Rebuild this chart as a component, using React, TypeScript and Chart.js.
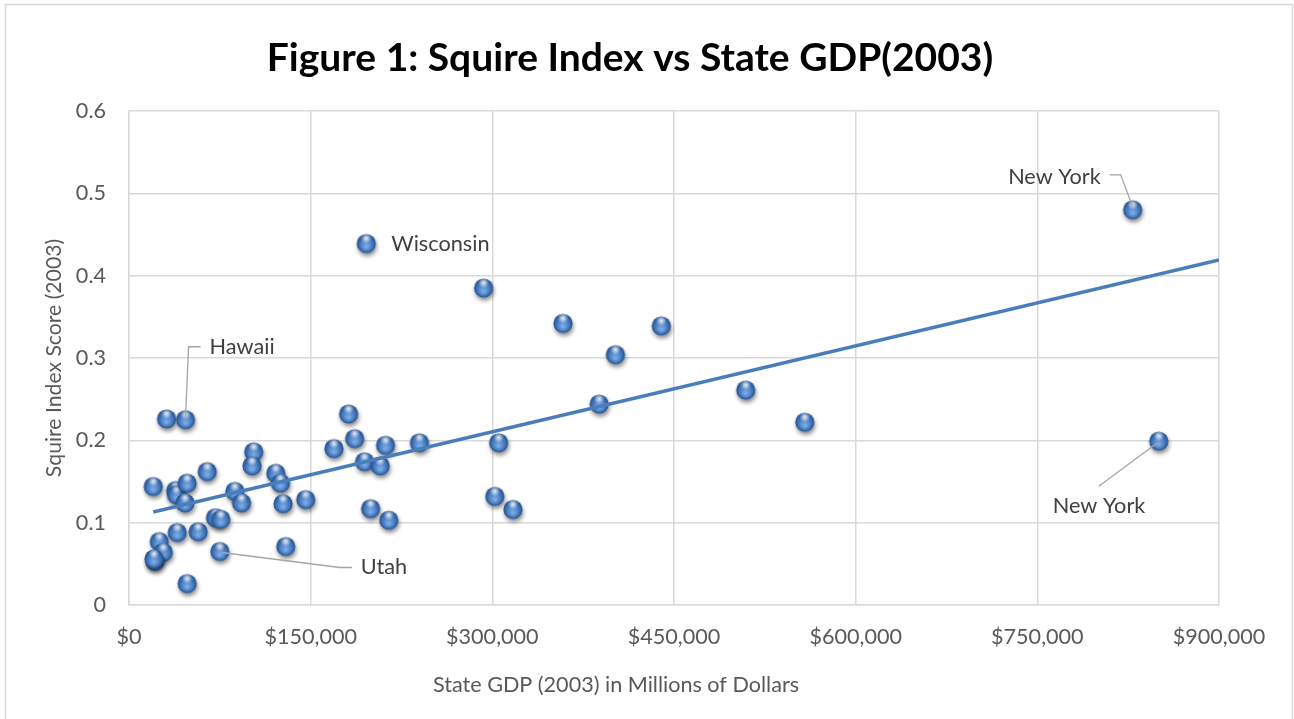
import React, { useEffect, useRef } from 'react';
import { Chart, registerables } from 'chart.js';

Chart.register(...registerables);

// ---------- data ----------
const GDP_MILLIONS = [
  31000, 46700, 20000, 38500, 39300, 48000, 46200, 64600, 103000, 101600,
  87400, 92900, 121200, 125000, 127200, 71400, 75800, 57100, 39800, 25000,
  28300, 21400, 20600, 75000, 129400, 48000, 181300, 186300, 169200, 211800,
  239800, 194500, 207400, 199500, 214500, 145900, 195900, 292800, 358300, 439500,
  401600, 388200, 305200, 302000, 317000, 509200, 558000, 828700, 850300,
];
const SQUIRE_SCORE = [
  0.226, 0.225, 0.144, 0.139, 0.134, 0.148, 0.124, 0.162, 0.186, 0.169,
  0.138, 0.124, 0.16, 0.148, 0.123, 0.106, 0.104, 0.089, 0.088, 0.077,
  0.064, 0.053, 0.056, 0.065, 0.071, 0.026, 0.232, 0.202, 0.19, 0.194,
  0.197, 0.174, 0.169, 0.117, 0.103, 0.128, 0.439, 0.385, 0.342, 0.339,
  0.304, 0.244, 0.197, 0.132, 0.116, 0.261, 0.222, 0.48, 0.199,
];
const X_TICK_LABELS = ['$0', '$150,000', '$300,000', '$450,000', '$600,000', '$750,000', '$900,000'];
const Y_TICK_LABELS = ['0', '0.1', '0.2', '0.3', '0.4', '0.5', '0.6'];
const TREND_X = [20000, 900000];
const TREND_Y = [0.113, 0.419];
const LABEL_POINTS = [1, 36, 23, 47, 48];
const LABEL_TEXTS = ['Hawaii', 'Wisconsin', 'Utah', 'New York', 'New York'];
const TITLE = 'Figure 1: Squire Index vs State GDP(2003)';
const X_TITLE = 'State GDP (2003) in Millions of Dollars';
const Y_TITLE = 'Squire Index Score (2003)';

// ---------- styles / layout ----------
const W = 1294;
const H = 719;
const FONT = 'Lato, "Open Sans", sans-serif';
const GRID = '#d9d9d9';
const TICK_COLOR = '#595959';
const LABEL_COLOR = '#404040';
const LEADER_COLOR = '#a6a6a6';
const LABEL_LAYOUT = [
  { leader: [[0, -3], [3, -73], [15, -73]], dx: 24, dy: -73, align: 'left' },
  { leader: [], dx: 25, dy: 0, align: 'left' },
  { leader: [[2, 1], [120, 16], [132, 16]], dx: 141, dy: 16, align: 'left' },
  { leader: [[0, -3], [-12, -35], [-23, -35]], dx: -32, dy: -33, align: 'right' },
  { leader: [[-2, 2], [-60, 45]], dx: -106, dy: 65, align: 'left' },
];

function makeBall(r: number): HTMLCanvasElement {
  const size = Math.ceil(r * 2 + 22);
  const c = document.createElement('canvas');
  c.width = size;
  c.height = size;
  const ctx = c.getContext('2d')!;
  const cx = size / 2;
  const cy = size / 2;
  ctx.save();
  ctx.shadowColor = 'rgba(0,0,0,0.45)';
  ctx.shadowBlur = 4;
  ctx.shadowOffsetX = 1;
  ctx.shadowOffsetY = 3;
  const g = ctx.createRadialGradient(cx, cy + r * 0.35, r * 0.1, cx, cy, r);
  g.addColorStop(0, '#7aaae4');
  g.addColorStop(0.55, '#497dc2');
  g.addColorStop(1, '#234f8a');
  ctx.fillStyle = g;
  ctx.beginPath();
  ctx.arc(cx, cy, r, 0, Math.PI * 2);
  ctx.fill();
  ctx.restore();
  const h = ctx.createRadialGradient(cx, cy - r * 0.55, 0, cx, cy - r * 0.55, r * 0.55);
  h.addColorStop(0, 'rgba(255,255,255,0.9)');
  h.addColorStop(1, 'rgba(255,255,255,0)');
  ctx.fillStyle = h;
  ctx.beginPath();
  ctx.arc(cx, cy, r, 0, Math.PI * 2);
  ctx.fill();
  return c;
}

const decorPlugin = {
  id: 'decor',
  beforeDraw(chart: any) {
    const ctx = chart.ctx;
    ctx.save();
    ctx.fillStyle = '#ffffff';
    ctx.fillRect(0, 0, W, H);
    ctx.strokeStyle = GRID;
    ctx.lineWidth = 1.5;
    ctx.strokeRect(5.5, 4.5, 1287, 730);
    ctx.restore();
  },
  afterDatasetsDraw(chart: any) {
    const ctx = chart.ctx;
    const meta = chart.getDatasetMeta(1);
    ctx.save();
    LABEL_POINTS.forEach((idx, i) => {
      const el = meta.data[idx];
      if (!el) return;
      const px = el.x;
      const py = el.y;
      const lay = LABEL_LAYOUT[i];
      if (lay.leader.length > 1) {
        ctx.strokeStyle = LEADER_COLOR;
        ctx.lineWidth = 1.3;
        ctx.beginPath();
        lay.leader.forEach((p, k) => {
          if (k === 0) ctx.moveTo(px + p[0], py + p[1]);
          else ctx.lineTo(px + p[0], py + p[1]);
        });
        ctx.stroke();
      }
      ctx.fillStyle = LABEL_COLOR;
      ctx.font = `21.7px ${FONT}`;
      ctx.textAlign = lay.align;
      ctx.textBaseline = 'middle';
      ctx.fillText(LABEL_TEXTS[i], px + lay.dx, py + lay.dy);
    });
    ctx.restore();
  },
  afterDraw(chart: any) {
    const ctx = chart.ctx;
    ctx.save();
    ctx.fillStyle = '#000000';
    ctx.font = `bold 39px ${FONT}`;
    ctx.textAlign = 'center';
    ctx.textBaseline = 'alphabetic';
    ctx.fillText(TITLE, 630, 71);

    ctx.fillStyle = TICK_COLOR;
    ctx.font = `21.6px ${FONT}`;
    ctx.textBaseline = 'middle';
    ctx.fillText(X_TITLE, 616, 685);

    ctx.translate(54, 358);
    ctx.rotate(-Math.PI / 2);
    ctx.font = `21.2px ${FONT}`;
    ctx.fillText(Y_TITLE, 0, 0);
    ctx.restore();
  },
};

export default function App() {
  const ref = useRef<HTMLCanvasElement | null>(null);

  useEffect(() => {
    document.body.style.margin = '0';
    const canvas = ref.current;
    if (!canvas) return;
    const ball = makeBall(9.6);
    const points = GDP_MILLIONS.map((x, i) => ({ x, y: SQUIRE_SCORE[i] }));
    const trend = TREND_X.map((x, i) => ({ x, y: TREND_Y[i] }));

    const chart = new Chart(canvas, {
      type: 'scatter',
      data: {
        datasets: [
          {
            type: 'line',
            label: 'Trend',
            data: trend,
            borderColor: '#4a7ebb',
            borderWidth: 3.5,
            pointRadius: 0,
            fill: false,
            order: 0,
          } as any,
          {
            label: 'States',
            data: points,
            pointStyle: ball as any,
            pointRadius: 10,
            order: 1,
          },
        ],
      },
      plugins: [decorPlugin],
      options: {
        responsive: false,
        animation: false,
        devicePixelRatio: 1,
        layout: { padding: { left: 0, right: 75, top: 111, bottom: 0 } },
        plugins: {
          legend: { display: false },
          title: { display: false },
          tooltip: { enabled: false },
        },
        scales: {
          x: {
            type: 'linear',
            min: 0,
            max: 900000,
            afterFit: (s: any) => {
              s.height = 114;
            },
            ticks: {
              stepSize: 150000,
              maxRotation: 0,
              autoSkip: false,
              padding: 19,
              color: TICK_COLOR,
              font: { family: FONT, size: 21.6 },
              callback: (_v: any, i: number) => X_TICK_LABELS[i],
            },
            grid: { color: GRID, lineWidth: 1.5, drawTicks: false },
            border: { color: GRID, width: 1.5 },
          },
          y: {
            type: 'linear',
            min: 0,
            max: 0.6,
            afterFit: (s: any) => {
              s.width = 129;
            },
            ticks: {
              stepSize: 0.1,
              padding: 23,
              color: TICK_COLOR,
              font: { family: FONT, size: 21.6 },
              callback: (_v: any, i: number) => Y_TICK_LABELS[i],
            },
            grid: { color: GRID, lineWidth: 1.5, drawTicks: false },
            border: { color: GRID, width: 1.5 },
          },
        },
      },
    });

    if ((document as any).fonts && (document as any).fonts.ready) {
      (document as any).fonts.ready.then(() => chart.update());
    }
    return () => chart.destroy();
  }, []);

  return (
    <div style={{ position: 'absolute', left: 0, top: 0, width: W, height: H }}>
      <canvas ref={ref} width={W} height={H} style={{ display: 'block' }} />
    </div>
  );
}
